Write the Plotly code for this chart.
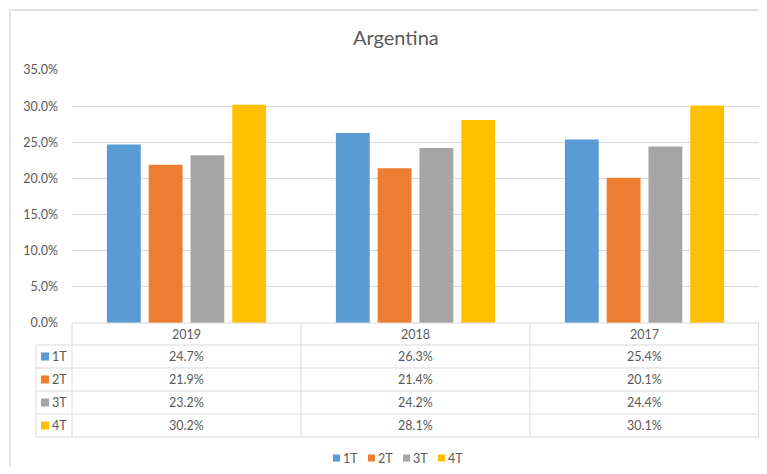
import plotly.graph_objects as go

years = ["2019", "2018", "2017"]
series_names = ["1T", "2T", "3T", "4T"]
v_1T = [24.7, 26.3, 25.4]
v_2T = [21.9, 21.4, 20.1]
v_3T = [23.2, 24.2, 24.4]
v_4T = [30.2, 28.1, 30.1]
series_values = [v_1T, v_2T, v_3T, v_4T]
colors = ["#5B9BD5", "#ED7D31", "#A5A5A5", "#FFC000"]
y_ticks = [0, 5, 10, 15, 20, 25, 30, 35]

# page body has an 8px margin; work in screen pixels and convert
OFF = 8
SW, SH = 767, 474
W, H = SW - 2 * OFF, SH - 2 * OFF
L, R, T, B = 72, SW - OFF, 70, 323  # plot area in screen pixels
TXT = "#595959"
GRID = "#D9D9D9"
FONT = "Lato, 'Open Sans', sans-serif"
FS = 12.5


def px(x):
    return (x - L) / (R - L)


def py(y):
    return (B - y) / (B - T)


fig = go.Figure()
for name, vals, c in zip(series_names, series_values, colors):
    fig.add_trace(go.Bar(x=years, y=vals, name=name, marker=dict(color=c, line=dict(width=0)),
                         showlegend=False))

shapes = []
annotations = []

shapes.append(dict(type="line", xref="paper", yref="paper", x0=px(10), x1=px(10), y0=py(10), y1=py(SH + 5),
                   line=dict(color=GRID, width=1.5)))
shapes.append(dict(type="line", xref="paper", yref="paper", x0=px(10), x1=px(SW + 5), y0=py(10), y1=py(10),
                   line=dict(color=GRID, width=1.5)))

ncol = len(years)
col_edges = [L + k * (R - L) / ncol for k in range(ncol + 1)]
row_edges = [323, 345, 368, 391, 414, 437]
key_left = 36

for i, ry in enumerate(row_edges):
    x0 = L if i == 0 else key_left
    shapes.append(dict(type="line", xref="paper", yref="paper", x0=px(x0), x1=px(R) - 0.0005, y0=py(ry), y1=py(ry),
                       line=dict(color=GRID, width=1)))
for k, cx in enumerate(col_edges):
    xx = px(cx) - (0.0008 if k == ncol else 0)
    shapes.append(dict(type="line", xref="paper", yref="paper", x0=xx, x1=xx,
                       y0=py(row_edges[0]), y1=py(row_edges[-1]), line=dict(color=GRID, width=1)))
shapes.append(dict(type="line", xref="paper", yref="paper", x0=px(key_left), x1=px(key_left),
                   y0=py(row_edges[1]), y1=py(row_edges[-1]), line=dict(color=GRID, width=1)))

for j, yr in enumerate(years):
    cx = (col_edges[j] + col_edges[j + 1]) / 2
    cy = (row_edges[0] + row_edges[1]) / 2
    annotations.append(dict(text=yr, x=px(cx), y=py(cy), xref="paper", yref="paper", showarrow=False,
                            font=dict(size=FS, color=TXT, family=FONT), xanchor="center", yanchor="middle"))

for i, (name, vals, c) in enumerate(zip(series_names, series_values, colors)):
    cy = (row_edges[i + 1] + row_edges[i + 2]) / 2
    shapes.append(dict(type="rect", xref="paper", yref="paper", x0=px(41), x1=px(49), y0=py(cy - 4), y1=py(cy + 4),
                       fillcolor=c, line=dict(width=0)))
    annotations.append(dict(text=name, x=px(50), y=py(cy), xref="paper", yref="paper", showarrow=False,
                            font=dict(size=FS, color=TXT, family=FONT), xanchor="left", yanchor="middle"))
    for j, v in enumerate(vals):
        cx = (col_edges[j] + col_edges[j + 1]) / 2
        annotations.append(dict(text=f"{v:.1f}%", x=px(cx), y=py(cy), xref="paper", yref="paper", showarrow=False,
                                font=dict(size=FS, color=TXT, family=FONT), xanchor="center", yanchor="middle"))

leg_x = [333, 368, 403, 438]
leg_y = 458
for name, c, lx in zip(series_names, colors, leg_x):
    shapes.append(dict(type="rect", xref="paper", yref="paper", x0=px(lx), x1=px(lx + 7), y0=py(leg_y - 3.5),
                       y1=py(leg_y + 3.5), fillcolor=c, line=dict(width=0)))
    annotations.append(dict(text=name, x=px(lx + 8), y=py(leg_y), xref="paper", yref="paper", showarrow=False,
                            font=dict(size=FS, color=TXT, family=FONT), xanchor="left", yanchor="middle"))

annotations.append(dict(text="Argentina", x=px(396), y=py(37), xref="paper", yref="paper", showarrow=False,
                        font=dict(size=20, color=TXT, family=FONT), xanchor="center", yanchor="middle"))

fig.update_layout(
    width=W, height=H,
    margin=dict(l=L - OFF, r=(OFF + W) - R, t=T - OFF, b=(OFF + H) - B),
    paper_bgcolor="white", plot_bgcolor="white",
    barmode="group", bargap=0.27, bargroupgap=0.19,
    font=dict(family=FONT, color=TXT, size=FS),
    xaxis=dict(showticklabels=False, showgrid=False, zeroline=False, showline=False, ticks=""),
    yaxis=dict(range=[0, 35], tickvals=y_ticks, ticktext=[f"{t:.1f}%" for t in y_ticks],
               showgrid=True, gridcolor=GRID, gridwidth=1, zeroline=False, showline=False,
               ticks="", ticklabelstandoff=13, tickfont=dict(size=FS, color=TXT, family=FONT)),
    shapes=shapes, annotations=annotations,
)

fig.write_html("out.html")
